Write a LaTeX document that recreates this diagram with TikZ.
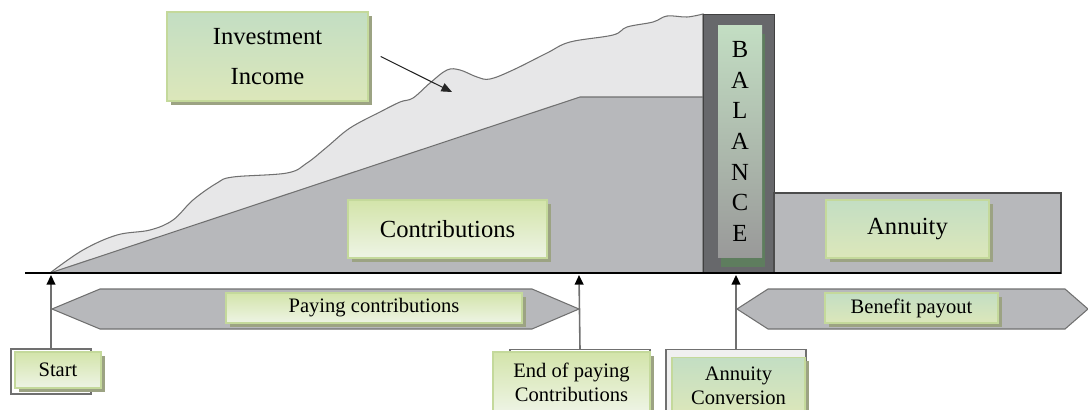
\documentclass[tikz,border=0pt]{standalone}
\usepackage{fontspec}
\setmainfont{Liberation Serif}
\usetikzlibrary{arrows.meta, shadows, positioning}

\definecolor{lightarea}{HTML}{E7E7E8}
\definecolor{darkarea}{HTML}{B7B8BB}
\definecolor{balframe}{HTML}{67686B}
\definecolor{edgegray}{HTML}{707070}
\definecolor{mint}{HTML}{C3DEC3}
\definecolor{straw}{HTML}{DCE7BA}
\definecolor{olive}{HTML}{D3E4AA}
\definecolor{pale}{HTML}{EEF4E5}
\definecolor{boxedge}{HTML}{C4D99B}
\definecolor{shadowgreen}{HTML}{9CA383}
\definecolor{deepgreen}{HTML}{5E7D5E}

\begin{document}
\begin{tikzpicture}[x=0.02cm, y=-0.02cm,
  lbl/.style={draw=boxedge, line width=0.8pt, inner sep=0pt, align=center,
    drop shadow={fill=shadowgreen, opacity=1, shadow xshift=2.2pt, shadow yshift=-2.2pt}},
  mintbox/.style={lbl, top color=mint, bottom color=straw},
  olivebox/.style={lbl, top color=olive, bottom color=pale},
  bigtxt/.style={font=\fontsize{14}{17.5}\selectfont},
  smalltxt/.style={font=\fontsize{11.7}{13.6}\selectfont},
  tagframe/.style={draw=edgegray, fill=white, line width=0.6pt, inner sep=0pt},
  band/.style={draw=edgegray, fill=darkarea, line width=0.6pt},
  rise/.style={draw=edgegray, line width=0.9pt, -{Triangle[length=5.5pt,width=5pt,color=black]}}]
      \useasboundingbox (0,0) rectangle (1088,409);
      \clip (0,0) rectangle (1088,409);
      \path[fill=lightarea, draw=edgegray, line width=0.6pt] plot[smooth, tension=0.6] coordinates {(50,273) (83,250) (117,235) (150,230) (173,220) (193,200) (217,183) (233,177) (287,173) (307,163) (327,147) (350,128) (380,112) (400,102) (413,98) (430,83) (447,70) (460,70) (477,77) (490,79) (513,70) (547,53) (570,42) (613,35) (627,27) (653,22) (667,16) (687,17) (703,14)} -- (703,273) -- cycle;
      \draw[band] (50,273) -- (580,97) -- (703,97) -- (703,273) -- cycle;
      \node[draw=black!75, fill=balframe, minimum width=1.42cm, minimum height=5.18cm, inner sep=0pt] (balout) at (738.5,143.5) {};
      \draw[draw=black!70, fill=darkarea, line width=0.6pt] (774,193) rectangle (1061,273);
      \draw[line width=0.8pt] (25,273) -- (1061,273);
      \node[top color=mint, bottom color=black!40, inner sep=0pt, align=center, font=\fontsize{14}{17.4}\selectfont,
        general shadow={fill=deepgreen, shadow xshift=1.7pt, shadow yshift=-5pt},
        minimum width=0.88cm, minimum height=4.66cm] (bal) at (740,141.5) {B\\A\\L\\A\\N\\C\\E};
      \node[mintbox, font=\fontsize{14}{22.7}\selectfont, minimum width=4.02cm, minimum height=1.78cm] (inv) at (267.5,56.5) {Investment\\Income};
      \node[olivebox, bigtxt, minimum width=3.98cm, minimum height=1.16cm] (contr) at (447.5,229) {Contributions};
      \node[mintbox, bigtxt, minimum width=3.26cm, minimum height=1.16cm] (annu) at (907.5,229) {Annuity};
      \coordinate (incpt) at (452,92);
      \draw[line width=0.6pt, black!85, -{Triangle[length=6pt,width=5pt]}] ([xshift=0.24cm]inv.east) -- (incpt);
      \draw[band] (52,309) -- (100,289) -- (532,289) -- (579,309) -- (532,329) -- (100,329) -- cycle;
      \draw[band] (737,309) -- (768,289) -- (1065,289) -- (1088,309) -- (1065,329) -- (768,329) -- cycle;
      \node[olivebox, smalltxt, minimum width=5.92cm, minimum height=0.6cm] (pay) at (374,308) {Paying contributions};
      \node[mintbox, smalltxt, minimum width=3.46cm, minimum height=0.6cm] (ben) at (911.5,308) {Benefit payout};
      \node[tagframe, minimum width=1.6cm, minimum height=0.9cm] (sfr) at (51,371.5) {};
      \node[olivebox, smalltxt, minimum width=1.72cm, minimum height=0.72cm] (start) at (58,370) {Start};
      \node[tagframe, minimum width=2.8cm, minimum height=1.5cm, anchor=north] (efr) at (580,349) {};
      \node[olivebox, smalltxt, minimum width=3.14cm, minimum height=1.2cm] (endc) at (571.5,382) {End of paying\\Contributions};
      \node[tagframe, fill=black!6, minimum width=2.8cm, minimum height=1.5cm, anchor=north] (cfr) at (736,349) {};
      \node[mintbox, smalltxt, minimum width=2.66cm, minimum height=1.14cm] (conv) at (738.5,386) {Annuity\\Conversion};
      \coordinate (p0) at (51,275);
      \coordinate (p1) at (579,275);
      \coordinate (p2) at (736,275);
      \draw[rise] (sfr.north) -- (p0);
      \draw[rise] (efr.north) -- (p1);
      \draw[rise] (cfr.north) -- (p2);
\end{tikzpicture}
\end{document}
